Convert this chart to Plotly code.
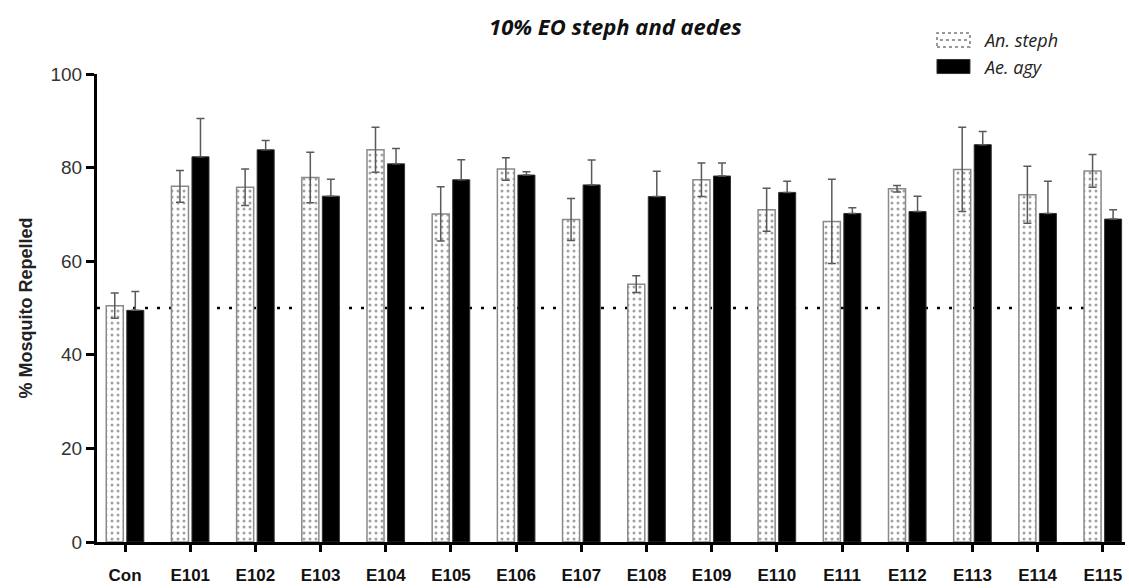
import plotly.graph_objects as go

categories = ["Con", "E101", "E102", "E103", "E104", "E105", "E106", "E107",
              "E108", "E109", "E110", "E111", "E112", "E113", "E114", "E115"]
series_names = ["An. steph", "Ae. agy"]
steph_vals = [50.5, 76.0, 75.8, 77.9, 83.8, 70.1, 79.7, 68.9,
              55.1, 77.4, 71.0, 68.5, 75.5, 79.6, 74.2, 79.3]
steph_err = [2.7, 3.4, 3.9, 5.4, 4.8, 5.8, 2.4, 4.5,
             1.8, 3.6, 4.6, 9.0, 0.7, 9.0, 6.1, 3.5]
agy_vals = [49.5, 82.3, 83.8, 73.9, 80.8, 77.4, 78.4, 76.3,
            73.8, 78.2, 74.7, 70.2, 70.6, 84.9, 70.2, 69.0]
agy_err = [4.0, 8.2, 2.0, 3.6, 3.3, 4.3, 0.7, 5.3,
           5.4, 2.8, 2.4, 1.2, 3.3, 2.8, 6.9, 2.0]
y_ticks = [0, 20, 40, 60, 80, 100]
ref_level = 50

fig = go.Figure()
fig.add_trace(go.Bar(
    name=series_names[0], x=categories, y=steph_vals, showlegend=False,
    marker=dict(color="white", line=dict(color="#8a8a8a", width=1.5),
                pattern=dict(shape=".", size=6, solidity=0.2,
                             fgcolor="#444444", bgcolor="white")),
    error_y=dict(type="data", array=steph_err, visible=True,
                 color="#5a5a5a", thickness=1.5, width=4),
))
fig.add_trace(go.Bar(
    name=series_names[1], x=categories, y=agy_vals, showlegend=False,
    marker=dict(color="black", line=dict(color="#333333", width=1)),
    error_y=dict(type="data", symmetric=False, array=agy_err,
                 arrayminus=[0] * len(agy_err), visible=True,
                 color="#5a5a5a", thickness=1.5, width=4),
))

fig.add_shape(type="line", xref="x domain", yref="y", x0=0, x1=1,
              y0=ref_level, y1=ref_level, layer="below",
              line=dict(color="black", width=2.5, dash="3px,9px"))

# custom legend (swatches + labels) placed above the plot area
fig.add_shape(type="rect", xref="paper", yref="paper",
              x0=0.8171, x1=0.8492, y0=1.0577, y1=1.0876,
              fillcolor="white", line=dict(color="#777777", width=1.5, dash="dot"))
fig.add_shape(type="line", xref="paper", yref="paper",
              x0=0.8200, x1=0.8463, y0=1.0726, y1=1.0726,
              line=dict(color="#777777", width=1.5, dash="dot"))
fig.add_shape(type="rect", xref="paper", yref="paper",
              x0=0.8171, x1=0.8492, y0=1.0010, y1=1.0310,
              fillcolor="black", line=dict(color="#333333", width=1))
for name, yy in zip(series_names, [1.0726, 1.0140]):
    fig.add_annotation(text=f"<i>{name}</i>", xref="paper", yref="paper",
                       x=0.8600, y=yy, xanchor="left", yanchor="middle",
                       showarrow=False,
                       font=dict(family="Open Sans, Arial", size=18, color="#222"))

fig.update_layout(
    width=1129, height=588,
    margin=dict(l=97, r=4, t=74, b=46),
    paper_bgcolor="white", plot_bgcolor="white",
    barmode="group", bargap=0.37, bargroupgap=0.17,
    showlegend=False,
    title=dict(text="<b><i>10% EO steph and aedes</i></b>",
               x=0.545, xref="container", xanchor="center",
               y=0.953, yref="container", yanchor="middle",
               font=dict(family="Open Sans, Arial", size=22, color="#111")),
    font=dict(family="Liberation Sans, Arial", color="#222"),
)
fig.update_xaxes(
    type="category", range=[-0.43, 15.34],
    showline=True, linecolor="black", linewidth=3,
    ticks="outside", ticklen=7, tickwidth=2.5, tickcolor="black",
    tickfont=dict(family="Liberation Sans, Arial", size=17, color="#111"),
    ticklabelstandoff=9,
    tickvals=categories, ticktext=[f"<b>{c}</b>" for c in categories],
    showgrid=False, zeroline=False,
)
fig.update_yaxes(
    range=[0, 100], tickvals=y_ticks,
    showline=True, linecolor="black", linewidth=3,
    ticks="outside", ticklen=8, tickwidth=3, tickcolor="black",
    tickfont=dict(family="Liberation Sans, Arial", size=19, color="#333"),
    showgrid=False, zeroline=False,
    title=dict(text="<b>% Mosquito Repelled</b>",
               font=dict(family="Liberation Sans, Arial", size=18, color="#222"),
               standoff=14),
)

fig.write_html("out.html")
